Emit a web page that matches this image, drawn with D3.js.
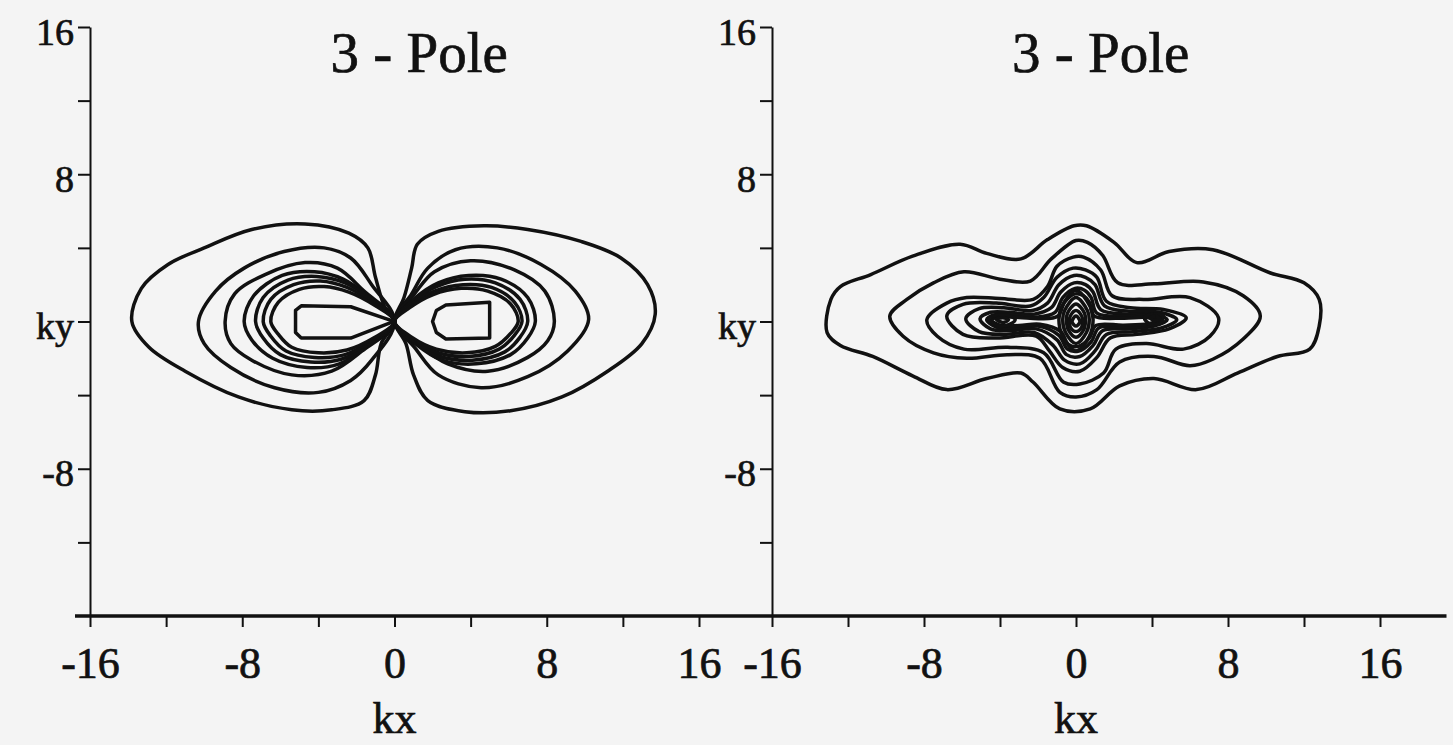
<!DOCTYPE html>
<html lang="en">
<head>
  <meta charset="UTF-8">
  <title>3 - Pole contours</title>
  <script src="https://d3js.org/d3.v7.min.js"></script>
  <style>
    body { margin: 0; background: #f4f4f4; }
    text { font-family: "Liberation Serif", "DejaVu Serif", serif; fill: #111; stroke: #111; stroke-width: 0.7px; }
  </style>
</head>
<body>
<script>
  // Contour lines, as [kx, ky] points

  // left panel, left lobe (outer to inner)
  const leftLobe1 = [[-13.8,0],[-13.3,1.8],[-11.9,3.1],[-10.0,4.0],[-7.5,5.0],[-4.7,5.3],[-2.4,4.8],[-1.4,4.0],[-1.0,2.4],[-0.5,0.75],[0,0],[-0.7,-1.2],[-1.0,-2.9],[-1.6,-4.3],[-3.3,-4.8],[-5.4,-4.8],[-8.2,-4.1],[-11.0,-2.7],[-12.9,-1.4]];
  const leftLobe2 = [[-10.3,0],[-9.4,1.65],[-7.9,2.9],[-5.8,3.8],[-3.7,4.0],[-2.3,3.45],[-1.2,2.0],[0,0],[-1.2,-2.1],[-2.3,-3.2],[-4.0,-3.85],[-6.3,-3.6],[-8.6,-2.5],[-10.0,-1.2]];
  const leftLobe3 = [[-8.9,0],[-8.4,1.5],[-6.8,2.55],[-4.7,3.2],[-3.0,2.9],[-1.6,1.65],[0,0],[-1.7,-1.6],[-3.3,-2.7],[-5.4,-2.9],[-7.5,-2.1],[-8.6,-1.2]];
  const leftLobe4 = [[-7.9,0],[-7.4,1.4],[-5.9,2.5],[-4.2,2.7],[-2.7,2.3],[-1.3,1.3],[0,0],[-1.4,-1.3],[-2.9,-2.3],[-4.6,-2.5],[-6.4,-2.0],[-7.5,-1.0]];
  const leftLobe5 = [[-7.3,0],[-6.9,1.3],[-5.6,2.25],[-4.1,2.45],[-2.6,2.1],[-1.2,1.2],[0,0],[-1.3,-1.2],[-2.8,-2.05],[-4.4,-2.2],[-6.0,-1.8],[-6.9,-0.9]];
  const leftLobe6 = [[-6.9,0],[-6.5,1.2],[-5.3,2.0],[-3.9,2.2],[-2.5,1.85],[-1.1,1.0],[0,0],[-1.2,-1.05],[-2.6,-1.8],[-4.2,-1.95],[-5.7,-1.6],[-6.5,-0.8]];
  const leftLobe7 = [[-6.5,0],[-6.1,1.05],[-5.0,1.75],[-3.7,1.9],[-2.4,1.6],[-1.0,0.85],[0,0],[-1.1,-0.9],[-2.5,-1.55],[-4.0,-1.7],[-5.4,-1.4],[-6.1,-0.7]];
  const leftLobeCore = [[-5.2,0.6],[-4.9,0.85],[-2.3,0.8],[-0.3,0.1],[0,0],[-0.3,-0.1],[-2.3,-0.9],[-4.9,-0.9],[-5.2,-0.6]];

  // left panel, right lobe (outer to inner)
  const rightLobe1 = [[13.7,0.4],[13.3,2.0],[11.9,3.45],[9.8,4.35],[7.0,5.0],[4.7,5.2],[2.3,4.9],[1.2,4.2],[0.9,2.9],[0.5,1.3],[0,0],[0.6,-1.2],[1.0,-2.9],[1.75,-4.3],[3.7,-4.9],[6.1,-4.85],[8.8,-4.1],[11.2,-2.7],[13.0,-1.2]];
  const rightLobe2 = [[10.2,0.1],[9.5,1.65],[7.7,3.1],[5.4,4.0],[3.2,3.9],[1.75,2.9],[0.9,1.5],[0,0],[1.05,-1.4],[2.3,-2.9],[4.55,-3.6],[7.0,-3.0],[9.1,-1.6]];
  const rightLobe3 = [[8.4,0],[7.9,1.65],[6.3,2.8],[4.0,3.3],[2.1,2.7],[1.05,1.5],[0,0],[1.2,-1.2],[2.8,-2.3],[4.9,-2.7],[7.0,-1.95],[8.05,-1.05]];
  const rightLobe4 = [[7.4,0],[7.0,1.3],[5.6,2.3],[3.9,2.5],[2.3,2.1],[1.0,1.2],[0,0],[1.1,-1.2],[2.5,-2.1],[4.3,-2.3],[6.1,-1.8],[7.0,-0.9]];
  const rightLobe5 = [[7.0,0],[6.6,1.2],[5.3,2.1],[3.7,2.3],[2.2,1.9],[0.9,1.05],[0,0],[1.0,-1.1],[2.4,-1.9],[4.1,-2.1],[5.8,-1.65],[6.6,-0.85]];
  const rightLobe6 = [[6.7,0],[6.3,1.05],[5.1,1.85],[3.6,2.0],[2.1,1.65],[0.85,0.9],[0,0],[0.95,-0.95],[2.3,-1.7],[3.9,-1.9],[5.5,-1.5],[6.3,-0.75]];
  const rightLobe7 = [[6.5,0],[6.1,0.95],[4.9,1.65],[3.5,1.8],[2.0,1.45],[0.8,0.75],[0,0],[0.9,-0.85],[2.2,-1.5],[3.8,-1.7],[5.3,-1.35],[6.1,-0.65]];
  const rightLobeCore = [[2.0,0],[2.2,0.6],[2.7,0.9],[5.0,1.05],[5.0,-0.9],[2.7,-0.95],[2.2,-0.6]];

  // right panel, elongated contours (outer to inner)
  const ring1 = [[-13.1,-0.6],[-12.9,1.2],[-12.4,1.9],[-10.8,2.55],[-8.6,3.55],[-6.1,4.2],[-4.7,3.7],[-2.9,3.4],[-1.5,4.45],[-0.1,5.2],[0.55,5.2],[2.0,4.3],[3.2,3.2],[4.9,3.8],[7.2,3.9],[10.2,2.65],[12.0,2.1],[12.8,1.2],[12.8,-0.25],[12.3,-1.5],[10.6,-1.9],[8.5,-2.8],[6.35,-3.7],[4.1,-3.1],[2.3,-3.5],[0.75,-4.75],[-0.85,-4.75],[-2.25,-3.3],[-2.9,-2.8],[-4.7,-3.1],[-6.8,-3.7],[-8.6,-2.95],[-10.7,-1.9],[-12.4,-1.3]];
  const ring2 = [[-9.8,0.3],[-8.9,1.2],[-7.5,2.1],[-5.9,2.7],[-4.0,2.3],[-2.4,2.2],[-1.3,3.4],[0.0,4.4],[0.6,4.3],[1.4,3.6],[2.2,2.1],[4.1,2.05],[6.7,2.15],[8.8,1.4],[9.7,0.3],[8.8,-0.95],[7.2,-2.05],[6.0,-2.4],[4.1,-1.9],[2.3,-2.2],[1.1,-3.7],[0.0,-4.1],[-0.85,-3.85],[-1.9,-2.0],[-3.6,-1.8],[-5.75,-2.0],[-7.5,-1.7],[-9.1,-0.8]];
  const ring3 = [[-7.85,0.1],[-6.8,1.0],[-5.75,1.3],[-4.0,1.25],[-2.25,1.2],[-1.5,1.9],[-1.0,3.0],[-0.15,3.5],[0.4,3.5],[1.3,2.8],[1.9,1.4],[3.55,1.2],[6.0,1.3],[7.5,0.2],[7.05,-0.8],[5.65,-1.5],[3.7,-1.2],[2.1,-1.5],[1.45,-2.8],[0.2,-3.4],[-0.65,-3.3],[-1.7,-1.7],[-3.6,-1.4],[-5.9,-1.5],[-7.3,-0.8]];
  const ring4 = [[-6.8,0.3],[-5.95,0.93],[-4.2,1.0],[-2.4,0.84],[-1.7,1.3],[-1.0,2.4],[-0.15,2.9],[0.5,2.8],[1.1,2.4],[1.6,1.1],[2.85,0.75],[4.6,0.65],[5.8,0.2],[4.9,-0.4],[3.2,-0.7],[1.8,-0.9],[1.1,-1.95],[0.2,-2.7],[-0.7,-2.5],[-1.4,-1.6],[-2.1,-0.8],[-4.2,-0.9],[-5.95,-0.7]];
  const ring5 = [[-5.8,0.15],[-5.1,0.7],[-3.8,0.75],[-2.3,0.6],[-1.5,1.0],[-0.9,2.0],[-0.1,2.5],[0.5,2.4],[1.0,2.0],[1.5,0.85],[2.8,0.55],[4.4,0.5],[5.3,0.1],[4.5,-0.35],[3.0,-0.55],[1.6,-0.7],[1.0,-1.6],[0.2,-2.3],[-0.6,-2.1],[-1.2,-1.3],[-2.2,-0.6],[-3.8,-0.7],[-5.1,-0.55]];
  const ring6 = [[-5.05,0.15],[-4.5,0.5],[-3.5,0.5],[-2.2,0.4],[-1.3,0.75],[-0.8,1.6],[-0.1,2.1],[0.5,2.0],[0.9,1.6],[1.3,0.65],[2.7,0.4],[4.1,0.4],[4.8,0.1],[4.1,-0.25],[2.8,-0.4],[1.4,-0.5],[0.9,-1.3],[0.2,-1.9],[-0.5,-1.8],[-1.0,-1.0],[-2.1,-0.4],[-3.5,-0.5],[-4.5,-0.4]];
  const ring7 = [[-4.7,0.1],[-4.2,0.38],[-3.2,0.35],[-2.0,0.25],[-1.1,0.5],[-0.7,1.3],[-0.05,1.8],[0.45,1.7],[0.8,1.3],[1.1,0.45],[2.6,0.28],[3.8,0.32],[4.55,0.08],[3.9,-0.2],[2.6,-0.3],[1.2,-0.35],[0.8,-1.1],[0.15,-1.6],[-0.45,-1.5],[-0.9,-0.75],[-2.0,-0.25],[-3.2,-0.35],[-4.2,-0.3]];
  const ring8 = [[-4.45,0.08],[-4.0,0.25],[-3.0,0.22],[-1.9,0.15],[-0.95,0.3],[-0.6,1.05],[-0.05,1.5],[0.4,1.4],[0.7,1.05],[0.95,0.3],[2.5,0.18],[3.7,0.22],[4.35,0.06],[3.8,-0.12],[2.5,-0.2],[1.05,-0.22],[0.7,-0.9],[0.12,-1.35],[-0.4,-1.25],[-0.8,-0.55],[-1.9,-0.15],[-3.0,-0.22],[-4.0,-0.2]];

  // right panel, small loops around the side peaks
  const sidePeakLeft1 = [[-4.6,0.15],[-4.1,0.35],[-3.5,0.3],[-3.2,0.1],[-3.5,-0.15],[-4.1,-0.25]];
  const sidePeakLeft2 = [[-4.2,0.12],[-3.85,0.2],[-3.55,0.1],[-3.85,-0.05]];
  const sidePeakRight1 = [[3.6,0.2],[4.1,0.4],[4.6,0.3],[4.4,-0.1],[3.9,-0.15]];
  const sidePeakRight2 = [[3.9,0.2],[4.2,0.28],[4.4,0.18],[4.15,0.05]];

  // right panel, nested loops around the central peak
  const centerLoop1 = [[0,1.7],[0.75,0.8],[0.9,0.1],[0.7,-0.8],[0,-1.6],[-0.7,-0.8],[-0.9,0.1],[-0.75,0.8]];
  const centerLoop2 = [[0,1.3],[0.6,0.6],[0.7,0.1],[0.55,-0.6],[0,-1.2],[-0.55,-0.6],[-0.7,0.1],[-0.6,0.6]];
  const centerLoop3 = [[0,0.95],[0.45,0.45],[0.5,0.05],[0.4,-0.45],[0,-0.85],[-0.4,-0.45],[-0.5,0.05],[-0.45,0.45]];
  const centerLoop4 = [[0,0.6],[0.3,0.3],[0.35,0],[0.3,-0.3],[0,-0.55],[-0.3,-0.3],[-0.35,0],[-0.3,0.3]];
  const centerLoop5 = [[0,0.3],[0.18,0.1],[0.2,-0.05],[0,-0.25],[-0.2,-0.05],[-0.18,0.1]];

  const leftPanelContours = [leftLobe1, leftLobe2, leftLobe3, leftLobe4, leftLobe5, leftLobe6, leftLobe7,
    rightLobe1, rightLobe2, rightLobe3, rightLobe4, rightLobe5, rightLobe6, rightLobe7];
  const leftPanelCores = [leftLobeCore, rightLobeCore];
  const rightPanelContours = [ring1, ring2, ring3, ring4, ring5, ring6, ring7, ring8,
    sidePeakLeft1, sidePeakLeft2, sidePeakRight1, sidePeakRight2,
    centerLoop1, centerLoop2, centerLoop3, centerLoop4, centerLoop5];

  // axes
  const titles = ['3 - Pole', '3 - Pole'];
  const tickValues = [-16, -12, -8, -4, 0, 4, 8, 12, 16];
  const yLabelValues = [16, 8, 0, -8];
  const yLabelTexts = ['16', '8', 'ky', '-8'];
  const xLabelValues = [-16, -8, 0, 8, 16];
  const xLabelTexts = ['-16', '-8', '0', '8', '16'];
  const xAxisTitle = 'kx';

  const width = 1453;
  const height = 745;

  const svg = d3.select('body').append('svg')
    .attr('width', width)
    .attr('height', height);

  svg.append('rect')
    .attr('width', width)
    .attr('height', height)
    .attr('fill', '#f4f4f4');

  const y = d3.scaleLinear().domain([-16, 16]).range([616, 27]);

  const panels = [
    { x: d3.scaleLinear().domain([-16, 16]).range([90, 699]), contours: leftPanelContours, cores: leftPanelCores, title: titles[0] },
    { x: d3.scaleLinear().domain([-16, 16]).range([772, 1380]), contours: rightPanelContours, cores: [], title: titles[1] }
  ];

  // long baseline shared by both panels
  svg.append('line')
    .attr('x1', panels[0].x(-16) - 15)
    .attr('x2', panels[1].x(19.5))
    .attr('y1', y(-16))
    .attr('y2', y(-16))
    .attr('stroke', '#111')
    .attr('stroke-width', 3.5);

  panels.forEach((p) => {
    const g = svg.append('g');

    // y axis with ticks pointing out
    const yAxis = g.append('g')
      .attr('transform', `translate(${p.x(-16)},0)`)
      .call(d3.axisLeft(y)
        .tickValues(tickValues.filter(v => v > -16))
        .tickSize(12)
        .tickSizeOuter(0)
        .tickPadding(4)
        .tickFormat(v => {
          const i = yLabelValues.indexOf(v);
          return i < 0 ? '' : yLabelTexts[i];
        }));
    yAxis.select('.domain').attr('stroke', '#111').attr('stroke-width', 2);
    yAxis.selectAll('.tick line').attr('stroke', '#111').attr('stroke-width', 2);
    yAxis.selectAll('.tick text')
      .attr('font-size', 38)
      .attr('dy', '0.45em')
      .attr('font-family', '"Liberation Serif", serif')
      .attr('fill', '#111');

    // x axis ticks
    const xAxis = g.append('g')
      .attr('transform', `translate(0,${y(-16)})`)
      .call(d3.axisBottom(p.x)
        .tickValues(tickValues)
        .tickSize(11)
        .tickPadding(20)
        .tickFormat(v => {
          const i = xLabelValues.indexOf(v);
          return i < 0 ? '' : xLabelTexts[i];
        }));
    xAxis.select('.domain').remove();
    xAxis.selectAll('.tick line').attr('stroke', '#111').attr('stroke-width', 2);
    xAxis.selectAll('.tick text')
      .attr('font-size', 44)
      .attr('font-family', '"Liberation Serif", serif')
      .attr('fill', '#111');

    // axis name under the ticks
    g.append('text')
      .attr('x', p.x(0))
      .attr('y', 733)
      .attr('text-anchor', 'middle')
      .attr('font-size', 44)
      .text(xAxisTitle);

    // panel title
    g.append('text')
      .attr('x', p.x(1.3))
      .attr('y', 72)
      .attr('text-anchor', 'middle')
      .attr('font-size', 57)
      .text(p.title);

    const smooth = d3.line()
      .x(d => p.x(d[0]))
      .y(d => y(d[1]))
      .curve(d3.curveCatmullRomClosed.alpha(0.5));

    const straight = d3.line()
      .x(d => p.x(d[0]))
      .y(d => y(d[1]))
      .curve(d3.curveLinearClosed);

    g.selectAll('path.contour')
      .data(p.contours)
      .enter().append('path')
      .attr('class', 'contour')
      .attr('d', smooth)
      .attr('fill', 'none')
      .attr('stroke', '#111')
      .attr('stroke-width', 3.5)
      .attr('stroke-linejoin', 'round');

    g.selectAll('path.core')
      .data(p.cores)
      .enter().append('path')
      .attr('class', 'core')
      .attr('d', straight)
      .attr('fill', 'none')
      .attr('stroke', '#111')
      .attr('stroke-width', 3.5)
      .attr('stroke-linejoin', 'round');
  });
</script>
</body>
</html>
